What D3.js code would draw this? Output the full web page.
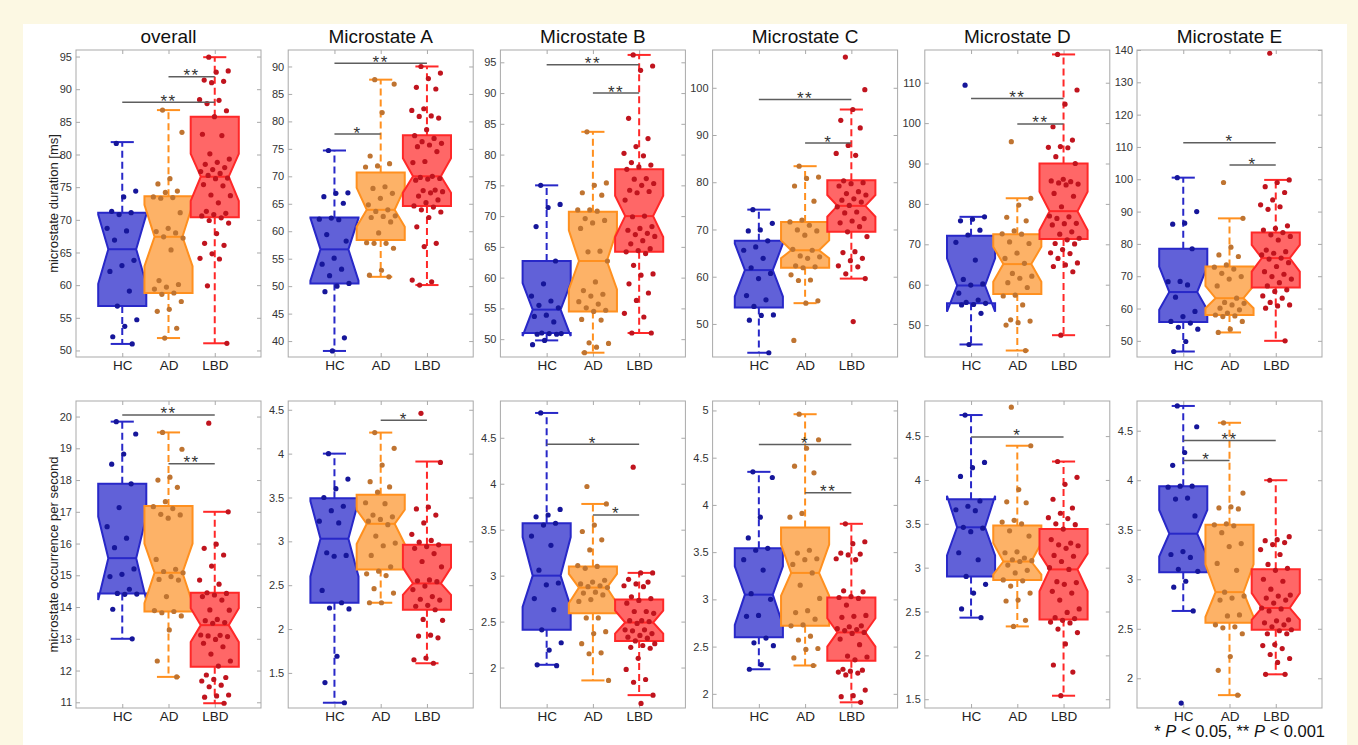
<!DOCTYPE html>
<html>
<head>
<meta charset="utf-8">
<title>Microstate duration and occurrence</title>
<style>
body { margin: 0; background: #fcf8e3; }
svg { display: block; }
text { font-family: "Liberation Sans", Arial, Helvetica, sans-serif; }
.frame { fill: none; stroke: #a9a9a9; stroke-width: 1; }
.tick line { stroke: #a9a9a9; }
.ytick .tick text { fill: #333; font-size: 11px; }
.xtick .tick text { fill: #222; font-size: 13.5px; }
.whisk { stroke-width: 2; stroke-dasharray: 7,4; }
.cap, .box, .med { stroke-width: 2; }
.sig { stroke: #5e5e5e; stroke-width: 1.5; }
.star { font-size: 17px; fill: #333; text-anchor: middle; letter-spacing: 1.5px; }
.title { font-size: 19px; fill: #111; text-anchor: middle; }
.ylab { font-size: 13px; fill: #222; text-anchor: middle; }
.legend { font-size: 16.5px; fill: #111; text-anchor: end; }
</style>
</head>
<body>
<script src="https://cdnjs.cloudflare.com/ajax/libs/d3/7.8.5/d3.min.js"></script>
<script>
var groups = ["HC", "AD", "LBD"];
var titles = ["overall", "Microstate A", "Microstate B", "Microstate C", "Microstate D", "Microstate E"];

// ---- microstate duration [ms] : points per group (HC, AD, LBD)
var durOverall = [
  [81.7, 74.4, 73.5, 71.3, 71.1, 70.8, 68.7, 68.3, 66.9, 63.8, 63.0, 62.1, 59.1, 56.8, 54.7, 53.7, 52.1, 51.0],
  [86.8, 83.4, 76.3, 75.5, 74.4, 74.2, 73.5, 73.4, 73.3, 71.1, 68.7, 68.2, 68.0, 67.4, 67.2, 65.4, 60.7, 60.1, 59.7, 59.4, 58.8, 58.6, 57.5, 56.3, 56.0, 53.4, 51.9],
  [94.9, 92.8, 92.6, 91.4, 91.2, 91.0, 88.4, 88.3, 87.8, 86.7, 85.8, 83.1, 82.9, 80.1, 79.3, 78.8, 78.5, 78.0, 77.7, 77.4, 77.1, 76.8, 76.4, 76.3, 75.4, 75.2, 73.8, 73.7, 72.6, 71.3, 71.0, 70.8, 70.6, 70.3, 69.9, 69.5, 67.9, 66.4, 66.1, 64.8, 64.1, 64.0, 59.9, 51.1]
];
var durA = [
  [74.7, 67.0, 66.9, 66.3, 65.1, 62.4, 62.2, 62.1, 59.4, 58.2, 55.1, 54.0, 53.1, 51.9, 50.5, 50.0, 49.0, 40.6, 38.2],
  [87.6, 86.8, 81.6, 73.7, 72.3, 71.9, 71.7, 68.1, 67.8, 66.9, 66.0, 64.8, 63.9, 63.6, 62.8, 62.7, 62.5, 61.7, 59.7, 57.9, 57.8, 57.8, 56.9, 52.9, 52.0, 51.7],
  [90.0, 88.8, 87.8, 86.2, 85.9, 82.3, 82.0, 81.0, 80.9, 80.6, 78.5, 77.4, 76.9, 76.3, 76.0, 75.7, 75.4, 74.5, 72.7, 72.5, 70.0, 69.8, 69.6, 69.5, 69.3, 67.5, 67.4, 67.2, 67.0, 66.4, 65.7, 65.2, 64.6, 64.4, 63.9, 63.5, 62.5, 60.8, 57.8, 57.2, 51.1, 50.8, 50.2]
];
var durB = [
  [75.0, 71.9, 71.4, 68.3, 62.7, 59.0, 57.0, 56.2, 55.5, 55.1, 53.9, 53.7, 52.8, 51.0, 50.9, 50.9, 50.8, 50.8, 49.8, 49.1],
  [83.7, 75.4, 75.0, 73.8, 73.4, 71.0, 71.0, 70.8, 69.6, 69.3, 68.9, 68.0, 64.3, 64.2, 62.7, 59.3, 57.9, 57.3, 57.0, 56.1, 55.7, 55.1, 54.7, 54.5, 53.2, 53.1, 49.4, 49.3, 48.7, 47.8],
  [96.2, 94.4, 93.7, 85.9, 82.6, 81.3, 80.2, 79.8, 78.7, 78.3, 78.0, 77.6, 76.1, 76.0, 75.3, 75.0, 74.2, 74.0, 73.8, 72.6, 70.0, 69.9, 68.3, 68.0, 67.7, 67.2, 67.0, 66.7, 66.0, 65.5, 64.7, 64.4, 64.2, 63.9, 62.0, 60.6, 60.4, 59.0, 57.5, 56.3, 54.2, 53.6, 51.0, 51.0]
];
var durC = [
  [74.2, 71.3, 69.9, 69.7, 67.6, 66.3, 65.6, 63.9, 61.9, 60.7, 59.6, 56.0, 55.1, 53.7, 51.9, 51.8, 50.8, 43.9],
  [83.4, 81.1, 80.8, 79.2, 76.0, 72.0, 71.6, 70.9, 69.9, 69.7, 68.8, 65.8, 65.6, 64.4, 64.2, 63.9, 62.3, 62.1, 61.9, 60.4, 59.3, 59.2, 54.9, 54.4, 46.5],
  [106.5, 99.6, 95.4, 93.1, 91.5, 87.8, 86.1, 85.7, 80.3, 79.9, 79.7, 79.2, 78.0, 77.6, 77.3, 76.5, 76.2, 75.8, 75.1, 74.8, 73.7, 73.5, 72.3, 71.8, 71.4, 70.6, 69.5, 68.5, 65.3, 65.1, 63.9, 63.4, 62.3, 62.1, 60.6, 59.6, 50.5]
];
var durD = [
  [109.4, 76.8, 76.2, 75.8, 73.5, 72.3, 70.5, 66.1, 61.3, 60.2, 59.9, 57.9, 56.2, 55.6, 55.4, 55.1, 55.0, 52.9, 45.2],
  [95.4, 81.4, 79.7, 76.7, 75.8, 73.3, 72.6, 72.5, 70.6, 70.2, 67.8, 66.5, 65.3, 62.8, 62.1, 61.6, 60.5, 59.3, 57.4, 57.2, 55.0, 51.3, 51.0, 50.6, 50.0, 43.7],
  [117.0, 108.2, 104.7, 99.1, 95.8, 94.2, 94.0, 93.9, 91.7, 90.0, 86.1, 85.7, 85.5, 85.2, 84.9, 84.7, 82.6, 81.9, 79.3, 77.0, 76.8, 76.4, 75.2, 75.1, 74.8, 73.1, 72.5, 71.5, 71.1, 70.2, 70.1, 68.7, 67.9, 67.7, 66.5, 65.4, 64.9, 64.5, 63.2, 47.5]
];
var durE = [
  [100.5, 90.0, 86.4, 86.1, 78.5, 68.4, 68.3, 67.3, 63.5, 59.1, 57.5, 56.0, 55.5, 54.2, 53.6, 49.8, 46.7],
  [99.0, 87.9, 79.0, 76.6, 76.1, 73.5, 72.8, 72.2, 70.9, 69.9, 69.1, 67.0, 63.2, 61.9, 61.6, 61.1, 60.1, 59.6, 58.6, 58.0, 57.7, 57.5, 56.0, 53.6, 52.6],
  [139.0, 99.8, 99.0, 97.7, 95.9, 93.6, 92.1, 91.5, 90.7, 85.6, 84.8, 84.3, 83.5, 82.8, 82.3, 81.2, 78.1, 77.6, 77.1, 76.6, 75.6, 75.3, 74.2, 73.0, 71.4, 70.6, 69.9, 69.1, 68.0, 67.0, 65.8, 65.3, 63.9, 63.2, 61.9, 61.1, 60.8, 60.1, 50.0]
];
// box stats per group: [whiskerLow, q1, notchLow, median, notchHigh, q3, whiskerHigh]
var durStats = [
  [[51.0, 56.8, 60.2, 65.5, 70.8, 71.1, 81.9], [51.9, 58.8, 62.9, 67.4, 72.3, 73.6, 86.8], [51.1, 70.4, 72.9, 76.6, 80.1, 85.8, 94.9]],
  [[38.2, 50.5, 51.0, 56.7, 62.4, 62.5, 74.7], [51.7, 58.4, 60.8, 63.9, 67.9, 70.7, 87.6], [50.2, 64.6, 67.0, 70.0, 73.3, 77.5, 90.0]],
  [[49.8, 51.0, 50.5, 54.8, 59.1, 62.7, 75.0], [47.8, 54.5, 58.1, 62.7, 67.7, 70.7, 83.7], [51.0, 64.2, 66.6, 70.0, 73.3, 77.6, 96.2]],
  [[43.9, 53.5, 55.8, 61.4, 67.0, 67.6, 74.2], [54.4, 61.9, 63.9, 65.6, 67.7, 71.6, 83.4], [59.6, 69.5, 72.7, 75.0, 77.3, 80.4, 95.4]],
  [[45.2, 55.4, 53.3, 59.8, 66.5, 72.1, 76.8], [43.7, 57.7, 60.7, 65.1, 69.4, 72.5, 81.4], [47.5, 71.3, 73.5, 78.2, 83.0, 90.0, 117.0]],
  [[46.7, 55.8, 59.6, 65.1, 73.0, 78.5, 100.5], [52.6, 58.0, 60.1, 63.2, 67.0, 73.0, 87.9], [50.0, 66.5, 71.4, 75.6, 79.7, 83.5, 99.8]]
];
// significance bars: [fromGroup, toGroup, value, label]
var durSig = [
  [[0, 2, 88.0, "**"], [1, 2, 91.9, "**"]],
  [[0, 2, 90.6, "**"], [0, 1, 77.7, "*"]],
  [[0, 2, 94.6, "**"], [1, 2, 90.0, "**"]],
  [[0, 2, 97.5, "**"], [1, 2, 88.3, "*"]],
  [[0, 2, 106.1, "**"], [1, 2, 99.8, "**"]],
  [[0, 2, 111.3, "*"], [1, 2, 104.4, "*"]]
];
var durDomains = [[49, 96], [37.1, 93], [47.1, 97], [43, 108], [42.1, 118.1], [45, 140]];
var durTicks = [
  [50, 55, 60, 65, 70, 75, 80, 85, 90, 95],
  [40, 45, 50, 55, 60, 65, 70, 75, 80, 85, 90],
  [50, 55, 60, 65, 70, 75, 80, 85, 90, 95],
  [50, 60, 70, 80, 90, 100],
  [50, 60, 70, 80, 90, 100, 110],
  [50, 60, 70, 80, 90, 100, 110, 120, 130, 140]
];

// ---- microstate occurrence per second
var occOverall = [
  [19.84, 19.45, 18.82, 18.5, 17.88, 17.13, 16.53, 16.17, 15.87, 15.2, 15.03, 14.96, 14.56, 14.43, 14.41, 14.4, 13.93, 13.0],
  [19.5, 18.97, 18.09, 18.0, 17.77, 17.32, 17.16, 17.1, 16.92, 16.9, 16.8, 15.5, 15.19, 15.12, 15.08, 14.96, 14.87, 14.85, 14.33, 13.89, 13.86, 13.82, 13.72, 13.28, 12.3, 11.8],
  [19.79, 17.0, 15.98, 15.85, 15.64, 15.29, 14.85, 14.72, 14.45, 14.43, 14.38, 14.33, 14.22, 13.91, 13.9, 13.61, 13.57, 13.51, 13.49, 13.12, 13.11, 13.09, 13.07, 12.98, 12.86, 12.75, 12.52, 12.3, 12.14, 11.86, 11.78, 11.72, 11.67, 11.54, 11.49, 11.23, 11.2, 11.16, 10.97]
];
var occA = [
  [4.0, 3.71, 3.60, 3.5, 3.40, 3.35, 3.23, 3.21, 2.87, 2.84, 2.83, 2.44, 2.30, 2.24, 2.23, 1.69, 1.39, 1.16],
  [4.24, 4.06, 3.87, 3.68, 3.62, 3.56, 3.44, 3.43, 3.30, 3.28, 3.25, 3.23, 3.19, 3.06, 2.98, 2.95, 2.84, 2.71, 2.66, 2.63, 2.61, 2.46, 2.41, 2.30, 2.30],
  [4.46, 3.90, 3.39, 3.37, 3.30, 3.21, 3.08, 3.01, 2.99, 2.96, 2.94, 2.92, 2.86, 2.77, 2.71, 2.56, 2.55, 2.54, 2.49, 2.45, 2.37, 2.34, 2.33, 2.27, 2.26, 2.22, 2.11, 2.10, 1.93, 1.92, 1.90, 1.67, 1.65, 1.61]
];
var occB = [
  [4.77, 3.72, 3.66, 3.64, 3.57, 3.55, 3.43, 3.33, 3.06, 2.92, 2.90, 2.75, 2.63, 2.41, 2.27, 2.19, 2.03, 2.02],
  [3.97, 3.78, 3.55, 3.48, 3.39, 3.28, 3.11, 3.10, 3.08, 2.95, 2.93, 2.91, 2.89, 2.88, 2.87, 2.82, 2.81, 2.79, 2.74, 2.72, 2.54, 2.54, 2.39, 2.37, 2.26, 2.16, 2.15, 1.86],
  [4.18, 3.03, 3.03, 2.96, 2.93, 2.91, 2.89, 2.88, 2.77, 2.75, 2.73, 2.70, 2.61, 2.61, 2.59, 2.51, 2.51, 2.50, 2.48, 2.41, 2.41, 2.40, 2.37, 2.35, 2.33, 2.32, 2.29, 2.26, 2.24, 2.22, 2.21, 2.10, 1.98, 1.87, 1.84, 1.70, 1.61]
];
var occC = [
  [4.35, 4.29, 3.87, 3.65, 3.54, 3.52, 3.42, 3.31, 3.06, 3.0, 2.83, 2.82, 2.59, 2.54, 2.51, 2.31, 2.26],
  [4.96, 4.69, 4.60, 4.41, 4.34, 3.91, 3.87, 3.52, 3.49, 3.43, 3.42, 3.37, 3.28, 3.15, 3.01, 2.88, 2.86, 2.79, 2.73, 2.72, 2.61, 2.57, 2.48, 2.47, 2.38, 2.30],
  [3.80, 3.61, 3.59, 3.49, 3.48, 3.47, 3.43, 3.42, 3.09, 3.08, 3.03, 3.02, 3.01, 2.94, 2.83, 2.82, 2.81, 2.72, 2.71, 2.69, 2.68, 2.67, 2.65, 2.64, 2.58, 2.52, 2.40, 2.39, 2.36, 2.26, 2.25, 2.24, 2.23, 2.22, 2.20, 2.04, 1.98, 1.97, 1.91]
];
var occD = [
  [4.74, 4.20, 4.14, 4.04, 3.76, 3.70, 3.66, 3.65, 3.46, 3.45, 3.41, 3.17, 3.09, 2.90, 2.81, 2.71, 2.53, 2.43],
  [4.83, 4.39, 3.89, 3.75, 3.74, 3.54, 3.52, 3.50, 3.42, 3.36, 3.18, 3.17, 3.11, 3.09, 3.08, 3.07, 3.03, 2.97, 2.94, 2.86, 2.85, 2.79, 2.71, 2.63, 2.62, 2.40, 2.33],
  [4.21, 4.03, 3.95, 3.78, 3.68, 3.62, 3.57, 3.56, 3.50, 3.49, 3.44, 3.32, 3.28, 3.26, 3.25, 3.22, 3.14, 3.13, 3.07, 3.0, 2.98, 2.84, 2.83, 2.81, 2.73, 2.71, 2.63, 2.53, 2.49, 2.43, 2.42, 2.40, 2.38, 2.37, 2.30, 2.26, 2.13, 1.89, 1.81, 1.54]
];
var occE = [
  [4.75, 4.54, 4.28, 4.15, 3.94, 3.94, 3.93, 3.82, 3.81, 3.64, 3.28, 3.25, 3.22, 3.10, 3.08, 2.98, 2.92, 2.68, 1.75],
  [4.58, 3.87, 3.73, 3.72, 3.71, 3.56, 3.55, 3.54, 3.47, 3.36, 3.33, 3.16, 3.09, 2.87, 2.83, 2.81, 2.79, 2.64, 2.63, 2.54, 2.52, 2.51, 2.45, 2.22, 2.08, 1.83],
  [4.0, 3.43, 3.40, 3.39, 3.37, 3.35, 3.30, 3.25, 3.15, 3.11, 3.09, 3.0, 2.98, 2.90, 2.84, 2.83, 2.81, 2.79, 2.76, 2.71, 2.70, 2.68, 2.59, 2.58, 2.56, 2.54, 2.52, 2.49, 2.48, 2.45, 2.45, 2.34, 2.33, 2.30, 2.24, 2.20, 2.16, 2.04, 2.04]
];
var occStats = [
  [[13.0, 14.43, 14.22, 15.54, 16.85, 17.88, 19.84], [11.8, 13.86, 14.12, 15.08, 16.0, 17.18, 19.5], [10.97, 12.12, 12.9, 13.43, 13.96, 14.45, 17.0]],
  [[1.16, 2.30, 2.60, 3.03, 3.46, 3.49, 4.0], [2.30, 2.68, 2.97, 3.2, 3.36, 3.53, 4.24], [1.61, 2.22, 2.39, 2.52, 2.70, 2.96, 3.91]],
  [[2.03, 2.41, 2.66, 3.0, 3.42, 3.57, 4.77], [1.86, 2.59, 2.70, 2.87, 3.02, 3.10, 3.78], [1.70, 2.29, 2.37, 2.49, 2.62, 2.74, 3.03]],
  [[2.26, 2.60, 2.73, 3.05, 3.35, 3.54, 4.35], [2.30, 2.72, 3.04, 3.28, 3.58, 3.76, 4.96], [1.91, 2.35, 2.50, 2.65, 2.80, 3.02, 3.80]],
  [[2.43, 2.90, 3.14, 3.46, 3.82, 3.78, 4.74], [2.33, 2.86, 2.92, 3.07, 3.28, 3.48, 4.39], [1.54, 2.41, 2.73, 2.98, 3.16, 3.44, 4.21]],
  [[2.68, 3.07, 3.23, 3.46, 3.70, 3.94, 4.75], [1.83, 2.56, 2.62, 2.87, 3.15, 3.55, 4.58], [2.04, 2.49, 2.59, 2.71, 2.86, 3.10, 4.0]]
];
var occSig = [
  [[0, 2, 20.05, "**"], [1, 2, 18.51, "**"]],
  [[1, 2, 4.38, "*"]],
  [[0, 2, 4.43, "*"], [1, 2, 3.66, "*"]],
  [[0, 2, 4.64, "*"], [1, 2, 4.13, "**"]],
  [[0, 2, 4.49, "*"]],
  [[0, 2, 4.40, "**"], [0, 1, 4.20, "*"]]
];
var occDomains = [[10.82, 20.49], [1.1, 4.6], [1.56, 4.9], [1.85, 5.1], [1.4, 4.9], [1.7, 4.8]];
var occTicks = [
  [11, 12, 13, 14, 15, 16, 17, 18, 19, 20],
  [1.5, 2, 2.5, 3, 3.5, 4, 4.5],
  [2, 2.5, 3, 3.5, 4, 4.5],
  [2, 2.5, 3, 3.5, 4, 4.5, 5],
  [1.5, 2, 2.5, 3, 3.5, 4, 4.5],
  [2, 2.5, 3, 3.5, 4, 4.5]
];

var rows = [
  {points: [durOverall, durA, durB, durC, durD, durE], stats: durStats, sig: durSig,
   dom: durDomains, ticks: durTicks, label: "microstate duration [ms]"},
  {points: [occOverall, occA, occB, occC, occD, occE], stats: occStats, sig: occSig,
   dom: occDomains, ticks: occTicks, label: "microstate occurrence per second"}
];

var edgeCol = ["#2828c8", "#ff901f", "#ff2828"],
    fillCol = ["#6161d8", "#fdb267", "#ff6767"],
    dotCol  = ["#16169a", "#bf7431", "#c0141e"];

var W = 1358, H = 745;
var svg = d3.select("body").append("svg").attr("width", W).attr("height", H);
svg.append("rect").attr("width", W).attr("height", H).attr("fill", "#fcf8e3");
svg.append("rect").attr("x", 23).attr("y", 24).attr("width", 1324).attr("height", 721).attr("fill", "#fff");

var colX = d3.scaleLinear().domain([0, 5]).range([76, 1137]);
var rowTop = [50, 401], pw = 185, ph = 307;

// deterministic spread of the dots around the group centre (x units)
function jit(i) { return (((i * 0.6180339887) + 0.31) % 1 - 0.5) * 0.68; }

rows.forEach(function(row, r) {
  row.points.forEach(function(pts, c) {
    var left = colX(c), top = rowTop[r];
    var x = d3.scaleLinear().domain([0, 4]).range([left, left + pw]);
    var y = d3.scaleLinear().domain(row.dom[c]).range([top + ph, top]);
    var g = svg.append("g");

    g.append("g").attr("class", "ytick").attr("transform", "translate(" + left + ",0)")
      .call(d3.axisLeft(y).tickValues(row.ticks[c]).tickSize(-4).tickPadding(4).tickFormat(d3.format("~g")))
      .call(function(a) { a.select(".domain").remove(); });
    g.append("g").attr("transform", "translate(" + (left + pw) + ",0)")
      .call(d3.axisRight(y).tickValues(row.ticks[c]).tickSize(-4).tickFormat(""))
      .call(function(a) { a.select(".domain").remove(); });
    g.append("g").attr("transform", "translate(0," + top + ")")
      .call(d3.axisTop(x).tickValues([1, 2, 3]).tickSize(-4).tickFormat(""))
      .call(function(a) { a.select(".domain").remove(); });
    g.append("g").attr("class", "xtick").attr("transform", "translate(0," + (top + ph) + ")")
      .call(d3.axisBottom(x).tickValues([1, 2, 3]).tickSize(-4).tickPadding(3.5)
        .tickFormat(function(d) { return groups[d - 1]; }))
      .call(function(a) { a.select(".domain").remove(); });

    g.append("rect").attr("class", "frame")
      .attr("x", left).attr("y", top).attr("width", pw).attr("height", ph);

    var hw = x(0.52) - x(0), nw = hw * 0.58, cw = x(0.25) - x(0);

    row.stats[c].forEach(function(s, gi) {
      var cx = x(gi + 1), col = edgeCol[gi];
      var bg = g.append("g");
      // whiskers
      bg.append("line").attr("class", "whisk").attr("stroke", col)
        .attr("x1", cx).attr("x2", cx).attr("y1", y(s[5])).attr("y2", y(s[6]));
      bg.append("line").attr("class", "whisk").attr("stroke", col)
        .attr("x1", cx).attr("x2", cx).attr("y1", y(s[1])).attr("y2", y(s[0]));
      [s[0], s[6]].forEach(function(v) {
        bg.append("line").attr("class", "cap").attr("stroke", col)
          .attr("x1", cx - cw).attr("x2", cx + cw).attr("y1", y(v)).attr("y2", y(v));
      });
      // notched box
      var pth = d3.path();
      pth.moveTo(cx - hw, y(s[5]));
      pth.lineTo(cx - hw, y(s[4]));
      pth.lineTo(cx - nw, y(s[3]));
      pth.lineTo(cx - hw, y(s[2]));
      pth.lineTo(cx - hw, y(s[1]));
      pth.lineTo(cx + hw, y(s[1]));
      pth.lineTo(cx + hw, y(s[2]));
      pth.lineTo(cx + nw, y(s[3]));
      pth.lineTo(cx + hw, y(s[4]));
      pth.lineTo(cx + hw, y(s[5]));
      pth.closePath();
      bg.append("path").attr("class", "box").attr("d", pth.toString())
        .attr("fill", fillCol[gi]).attr("stroke", col).attr("stroke-linejoin", "miter");
      bg.append("line").attr("class", "med").attr("stroke", col)
        .attr("x1", cx - nw).attr("x2", cx + nw).attr("y1", y(s[3])).attr("y2", y(s[3]));
    });

    pts.forEach(function(vals, gi) {
      g.append("g").selectAll("circle").data(vals).join("circle")
        .attr("cx", function(d, i) { return x(gi + 1 + jit(i)); })
        .attr("cy", function(d) { return y(d); })
        .attr("r", 2.6)
        .attr("fill", dotCol[gi]);
    });

    row.sig[c].forEach(function(b) {
      var yy = y(b[2]);
      g.append("line").attr("class", "sig")
        .attr("x1", x(b[0] + 1)).attr("x2", x(b[1] + 1)).attr("y1", yy).attr("y2", yy);
      g.append("text").attr("class", "star")
        .attr("x", (x(b[0] + 1) + x(b[1] + 1)) / 2).attr("y", yy + 4.5).text(b[3]);
    });

    if (r === 0) {
      g.append("text").attr("class", "title")
        .attr("x", left + pw / 2).attr("y", top - 7.5).text(titles[c]);
    }
    if (c === 0) {
      g.append("text").attr("class", "ylab")
        .attr("transform", "translate(53," + (top + ph / 2) + ") rotate(-90)")
        .attr("dy", "0.35em").text(row.label);
    }
  });
});

var leg = svg.append("text").attr("class", "legend").attr("x", 1325).attr("y", 737);
leg.append("tspan").text("* ");
leg.append("tspan").attr("font-style", "italic").text("P");
leg.append("tspan").text(" < 0.05, ** ");
leg.append("tspan").attr("font-style", "italic").text("P");
leg.append("tspan").text(" < 0.001");
</script>
</body>
</html>
